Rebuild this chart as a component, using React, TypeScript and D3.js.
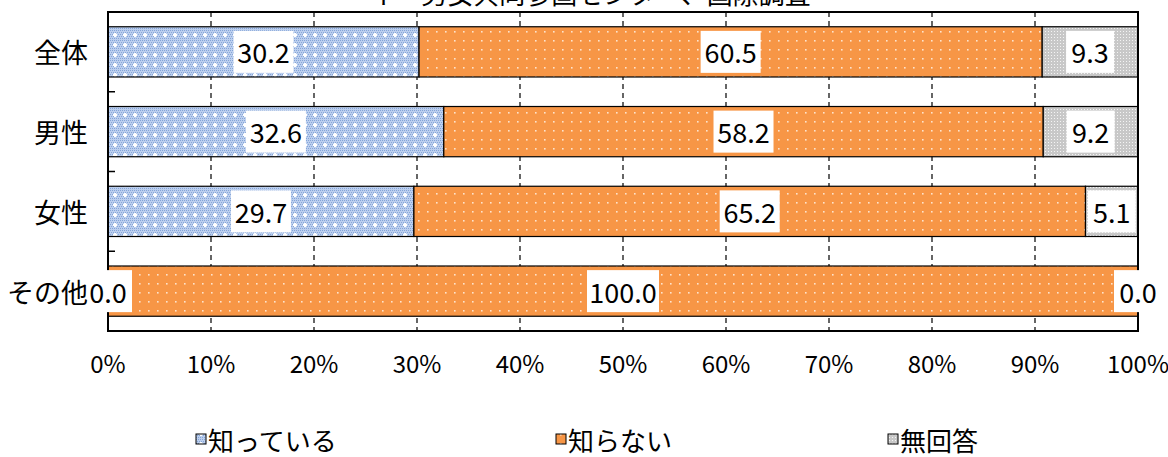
import * as d3 from "d3";

const categories = ["全体", "男性", "女性", "その他"];
const seriesNames = ["知っている", "知らない", "無回答"];
const knows = [30.2, 32.6, 29.7, 0.0];
const doesNotKnow = [60.5, 58.2, 65.2, 100.0];
const noAnswer = [9.3, 9.2, 5.1, 0.0];
const xTicks = [0, 10, 20, 30, 40, 50, 60, 70, 80, 90, 100];
const title = "イ　男女共同参画センター、国際調査";

/** svg dimensions */
const width = 1168;
const height = 457;
const plot = { left: 108, right: 1138, top: 12, bottom: 331 };

const jp = "'Noto Sans CJK JP', 'Noto Sans', sans-serif";
const fills = ["url(#patKnow)", "url(#patNo)", "url(#patNa)"];
const legendX = [196, 556, 888];

const App = () => {
  const x = d3.scaleLinear().domain([0, 100]).range([plot.left, plot.right]);
  const y = d3
    .scaleBand<string>()
    .domain(categories)
    .range([plot.top, plot.bottom])
    .paddingInner(0.37)
    .paddingOuter(0.185);
  const step = (plot.bottom - plot.top) / categories.length;

  const rows = categories.map((c, i) => ({ c, values: [knows[i], doesNotKnow[i], noAnswer[i]] }));
  const stacked = rows.map((r) => {
    let acc = 0;
    return r.values.map((v) => {
      const seg = { c: r.c, v, x0: acc, x1: acc + v };
      acc += v;
      return seg;
    });
  });

  return (
    <svg
      width={width}
      height={height}
      viewBox={[0, 0, width, height].join(" ")}
      style={{ position: "absolute", left: 0, top: 0, background: "#fff" }}
    >
      <defs>
        <pattern id="patKnow" width={10} height={10} patternUnits="userSpaceOnUse">
          <rect width={10} height={10} fill="#bccfee" />
          {d3.range(0, 10, 2).map((i) =>
            d3.range(0, 10, 2).map((j) => (
              <rect key={`${i}-${j}`} x={i + ((j / 2) % 2)} y={j} width={1} height={1} fill="#85a5d8" />
            ))
          )}
          <rect x={4} y={3} width={2} height={4} fill="#fff" />
          <rect x={3} y={4} width={4} height={2} fill="#fff" />
        </pattern>
        <pattern id="patNo" width={9} height={9} patternUnits="userSpaceOnUse">
          <rect width={9} height={9} fill="#f79646" />
          <rect x={4} y={4} width={1.6} height={1.6} fill="#fde3cc" />
        </pattern>
        <pattern id="patNa" width={3} height={3} patternUnits="userSpaceOnUse">
          <rect width={3} height={3} fill="#c8c8c8" />
          <rect x={1} y={1} width={1} height={1} fill="#f4f4f4" />
        </pattern>
      </defs>

      {/* title, clipped at the top like the original */}
      <text x={590} y={4} textAnchor="middle" fontFamily={jp} fontSize={26} fill="#000">
        {title}
      </text>

      {/* dashed vertical grid */}
      {xTicks.slice(1, -1).map((t) => (
        <line
          key={t}
          x1={x(t)}
          x2={x(t)}
          y1={plot.top}
          y2={plot.bottom}
          stroke="#000"
          strokeWidth={1.2}
          strokeDasharray="5,4"
        />
      ))}

      {/* stacked bars */}
      {stacked.map((segs) =>
        segs.map((s, k) => (
          <rect
            key={`${s.c}-${k}`}
            x={x(s.x0)}
            y={y(s.c)}
            width={x(s.x1) - x(s.x0)}
            height={y.bandwidth()}
            fill={fills[k]}
            stroke="#000"
            strokeWidth={s.v > 0 ? 1.2 : 0}
          />
        ))
      )}

      {/* plot frame */}
      <rect
        x={plot.left}
        y={plot.top}
        width={plot.right - plot.left}
        height={plot.bottom - plot.top}
        fill="none"
        stroke="#000"
        strokeWidth={2}
      />
      {/* category ticks */}
      {d3.range(1, categories.length).map((i) => (
        <line
          key={i}
          x1={plot.left}
          x2={plot.left + 7}
          y1={plot.top + i * step}
          y2={plot.top + i * step}
          stroke="#000"
          strokeWidth={1.5}
        />
      ))}

      {/* value labels */}
      {stacked.map((segs) =>
        segs.map((s, k) => {
          const cx = x((s.x0 + s.x1) / 2);
          const cy = (y(s.c) ?? 0) + y.bandwidth() / 2;
          const label = s.v.toFixed(1);
          const w = label.length * 12 + 12;
          return (
            <g key={`${s.c}-l${k}`}>
              <rect x={cx - w / 2} y={cy - 21} width={w} height={42} fill="#fff" />
              <text
                x={cx}
                y={cy}
                textAnchor="middle"
                dominantBaseline="central"
                fontFamily={jp}
                fontSize={27}
                fill="#000"
              >
                {label}
              </text>
            </g>
          );
        })
      )}

      {/* category labels, on top of the value labels */}
      {categories.map((c) => (
        <text
          key={c}
          x={plot.left - 20}
          y={(y(c) ?? 0) + y.bandwidth() / 2}
          textAnchor="end"
          dominantBaseline="central"
          fontFamily={jp}
          fontSize={27}
          fill="#000"
        >
          {c}
        </text>
      ))}

      {/* x-axis labels */}
      {xTicks.map((t) => (
        <text
          key={t}
          x={x(t)}
          y={362}
          textAnchor="middle"
          dominantBaseline="central"
          fontFamily={jp}
          fontSize={24}
          fill="#000"
        >
          {`${t}%`}
        </text>
      ))}

      {/* legend */}
      {seriesNames.map((n, k) => (
        <g key={n} transform={`translate(${legendX[k]}, 439)`}>
          <rect x={0} y={-5} width={10} height={10} fill={fills[k]} stroke="#000" strokeWidth={1} />
          <text x={12} y={0} dominantBaseline="central" fontFamily={jp} fontSize={26} fill="#000">
            {n}
          </text>
        </g>
      ))}
    </svg>
  );
};

export default App;
